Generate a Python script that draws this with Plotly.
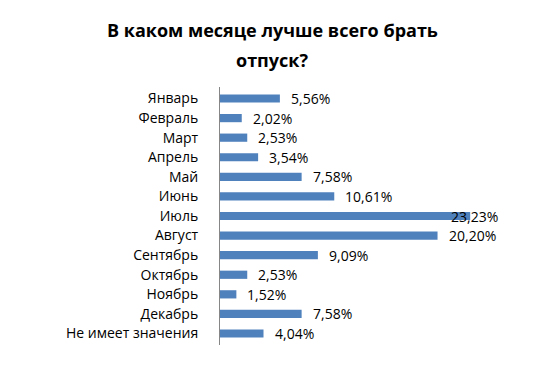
import plotly.graph_objects as go

categories = ["Январь", "Февраль", "Март", "Апрель", "Май", "Июнь", "Июль",
              "Август", "Сентябрь", "Октябрь", "Ноябрь", "Декабрь", "Не имеет значения"]
values = [5.56, 2.02, 2.53, 3.54, 7.58, 10.61, 23.23, 20.20, 9.09, 2.53, 1.52, 7.58, 4.04]
labels = [f"{v:.2f}".replace(".", ",") + "%" for v in values]
title_lines = ["В каком месяце лучше всего брать", "отпуск?"]

x_max = 26.0
plot_px = 280.0
scale = plot_px / x_max
label_px = 48.0

fig = go.Figure(go.Bar(
    y=categories, x=values, orientation="h",
    marker=dict(color="#4F81BD", line=dict(width=0)),
    hoverinfo="skip",
))

anns = []
for c, v, t in zip(categories, values, labels):
    if v * scale + 10 + label_px > plot_px:
        anns.append(dict(x=x_max, y=c, xref="x", yref="y", text=t, showarrow=False,
                         xanchor="right", xshift=0, font=dict(size=14, color="#000000")))
    else:
        anns.append(dict(x=v, y=c, xref="x", yref="y", text=t, showarrow=False,
                         xanchor="left", xshift=9, font=dict(size=14, color="#000000")))

for i, line in enumerate(title_lines):
    anns.append(dict(x=0.5, xref="paper", xanchor="center", y=1, yref="paper",
                     yanchor="middle", yshift=[57, 27][i], xshift=-88,
                     text=f"<b>{line}</b>", showarrow=False,
                     font=dict(family="Open Sans", size=18, color="#000000")))

fig.update_layout(
    width=528, height=379,
    margin=dict(l=212, r=36, t=79, b=42, autoexpand=False),
    paper_bgcolor="white", plot_bgcolor="white",
    font=dict(family="Open Sans", size=14, color="#000000"),
    bargap=0.58,
    showlegend=False,
    annotations=anns,
    xaxis=dict(range=[0, x_max], visible=False, fixedrange=True, automargin=False),
    yaxis=dict(autorange="reversed", showline=True, linecolor="#868686", linewidth=1,
               ticks="", showgrid=False, ticklabelstandoff=18, automargin=False,
               tickfont=dict(family="Open Sans", size=14, color="#000000")),
)

fig.write_html("out.html")
